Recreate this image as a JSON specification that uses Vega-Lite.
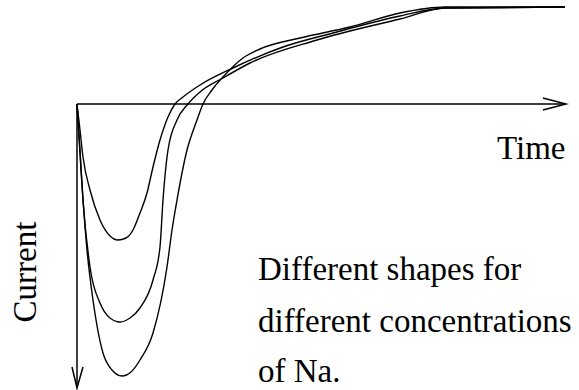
{
  "$schema": "https://vega.github.io/schema/vega-lite/v6.json",
  "width": 579,
  "height": 390,
  "padding": 0,
  "autosize": {"type": "none"},
  "background": "white",
  "config": {"view": {"stroke": null}},
  "datasets": {
    "axes": [
      {"part": "time axis", "t": 0, "I": 0},
      {"part": "time axis", "t": 489, "I": 0},
      {"part": "time arrow", "t": 466, "I": 6},
      {"part": "time arrow", "t": 489, "I": 0},
      {"part": "time arrow", "t": 466, "I": -6},
      {"part": "current axis", "t": 0, "I": 0},
      {"part": "current axis", "t": 0, "I": -284},
      {"part": "current arrow", "t": -5, "I": -263},
      {"part": "current arrow", "t": 0, "I": -284},
      {"part": "current arrow", "t": 6, "I": -263}
    ],
    "curves": [
      {"curve": "A", "t": 0, "I": 0},
      {"curve": "A", "t": 3, "I": -26},
      {"curve": "A", "t": 6, "I": -53},
      {"curve": "A", "t": 13, "I": -86},
      {"curve": "A", "t": 23, "I": -116},
      {"curve": "A", "t": 33, "I": -132},
      {"curve": "A", "t": 41, "I": -136},
      {"curve": "A", "t": 49, "I": -134},
      {"curve": "A", "t": 56, "I": -126},
      {"curve": "A", "t": 63, "I": -109},
      {"curve": "A", "t": 70, "I": -89},
      {"curve": "A", "t": 76, "I": -63},
      {"curve": "A", "t": 83, "I": -36},
      {"curve": "A", "t": 91, "I": -13},
      {"curve": "A", "t": 98, "I": 0},
      {"curve": "A", "t": 106, "I": 7},
      {"curve": "A", "t": 123, "I": 19},
      {"curve": "A", "t": 156, "I": 36},
      {"curve": "A", "t": 206, "I": 57},
      {"curve": "A", "t": 256, "I": 71},
      {"curve": "A", "t": 323, "I": 88},
      {"curve": "A", "t": 368, "I": 96},
      {"curve": "A", "t": 488, "I": 97},
      {"curve": "B", "t": 0, "I": 0},
      {"curve": "B", "t": 3, "I": -46},
      {"curve": "B", "t": 6, "I": -96},
      {"curve": "B", "t": 13, "I": -163},
      {"curve": "B", "t": 23, "I": -199},
      {"curve": "B", "t": 33, "I": -214},
      {"curve": "B", "t": 43, "I": -218},
      {"curve": "B", "t": 53, "I": -214},
      {"curve": "B", "t": 63, "I": -204},
      {"curve": "B", "t": 76, "I": -176},
      {"curve": "B", "t": 83, "I": -143},
      {"curve": "B", "t": 86, "I": -96},
      {"curve": "B", "t": 91, "I": -46},
      {"curve": "B", "t": 100, "I": -16},
      {"curve": "B", "t": 111, "I": 0},
      {"curve": "B", "t": 123, "I": 12},
      {"curve": "B", "t": 146, "I": 26},
      {"curve": "B", "t": 173, "I": 41},
      {"curve": "B", "t": 240, "I": 64},
      {"curve": "B", "t": 323, "I": 85},
      {"curve": "B", "t": 368, "I": 96},
      {"curve": "B", "t": 488, "I": 97},
      {"curve": "C", "t": 0, "I": 0},
      {"curve": "C", "t": 4, "I": -66},
      {"curve": "C", "t": 10, "I": -146},
      {"curve": "C", "t": 16, "I": -196},
      {"curve": "C", "t": 26, "I": -249},
      {"curve": "C", "t": 35, "I": -266},
      {"curve": "C", "t": 45, "I": -272},
      {"curve": "C", "t": 54, "I": -268},
      {"curve": "C", "t": 63, "I": -256},
      {"curve": "C", "t": 76, "I": -229},
      {"curve": "C", "t": 90, "I": -163},
      {"curve": "C", "t": 95, "I": -126},
      {"curve": "C", "t": 100, "I": -96},
      {"curve": "C", "t": 110, "I": -46},
      {"curve": "C", "t": 120, "I": -16},
      {"curve": "C", "t": 126, "I": 0},
      {"curve": "C", "t": 135, "I": 14},
      {"curve": "C", "t": 146, "I": 27},
      {"curve": "C", "t": 166, "I": 46},
      {"curve": "C", "t": 183, "I": 55},
      {"curve": "C", "t": 223, "I": 66},
      {"curve": "C", "t": 273, "I": 77},
      {"curve": "C", "t": 323, "I": 91},
      {"curve": "C", "t": 368, "I": 97},
      {"curve": "C", "t": 488, "I": 97}
    ],
    "labels": [
      {"label": "Time", "t": 420, "I": -55},
      {"label": "Different shapes for", "t": 181, "I": -176},
      {"label": "different concentrations", "t": 181, "I": -228},
      {"label": "of Na.", "t": 181, "I": -278}
    ],
    "ylabel": [
      {"label": "Current", "t": -41, "I": -168}
    ]
  },
  "layer": [
    {
      "data": {"name": "axes"},
      "mark": {"type": "line", "stroke": "black", "strokeWidth": 1.5, "clip": false},
      "encoding": {
        "x": {"field": "t", "type": "quantitative", "scale": {"domain": [-77, 502], "nice": false, "zero": false}, "axis": null},
        "y": {"field": "I", "type": "quantitative", "scale": {"domain": [-286, 104], "nice": false, "zero": false}, "axis": null},
        "detail": {"field": "part"},
        "order": {"value": null}
      }
    },
    {
      "data": {"name": "curves"},
      "mark": {"type": "line", "stroke": "black", "strokeWidth": 1.4, "interpolate": "monotone", "clip": false},
      "encoding": {
        "x": {"field": "t", "type": "quantitative"},
        "y": {"field": "I", "type": "quantitative"},
        "detail": {"field": "curve"}
      }
    },
    {
      "data": {"name": "labels"},
      "mark": {"type": "text", "font": "Liberation Serif", "fontSize": 33, "align": "left", "baseline": "alphabetic"},
      "encoding": {
        "x": {"field": "t", "type": "quantitative"},
        "y": {"field": "I", "type": "quantitative"},
        "text": {"field": "label"}
      }
    },
    {
      "data": {"name": "ylabel"},
      "mark": {"type": "text", "font": "Liberation Serif", "fontSize": 33, "align": "center", "baseline": "alphabetic", "angle": 270},
      "encoding": {
        "x": {"field": "t", "type": "quantitative"},
        "y": {"field": "I", "type": "quantitative"},
        "text": {"field": "label"}
      }
    }
  ]
}
